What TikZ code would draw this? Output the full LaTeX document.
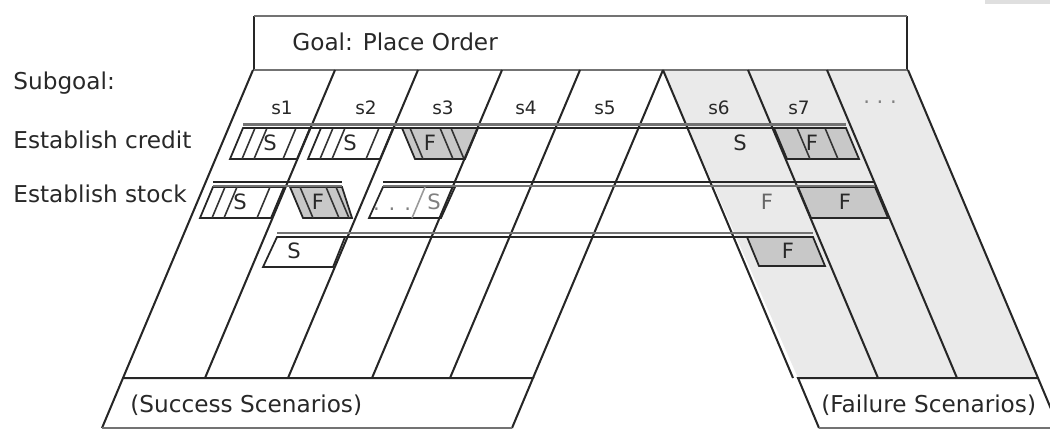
\documentclass[tikz,border=0pt]{standalone}
\usepackage{fontspec}
\setmainfont{DejaVu Sans}
\definecolor{FailGray}{RGB}{234,234,234}
\definecolor{BoxGray}{RGB}{200,200,200}
\definecolor{RuleGray}{RGB}{115,115,115}
\definecolor{InkGray}{RGB}{40,40,40}
\usetikzlibrary{positioning}
\tikzset{
  txt/.style={inner sep=0pt, text=InkGray, font=\fontsize{13.2}{15}\selectfont},
  coltxt/.style={inner sep=0pt, text=InkGray, font=\fontsize{10.5}{12}\selectfont},
  boxtxt/.style={inner sep=0pt, text=InkGray, font=\fontsize{12}{14}\selectfont},
  edge/.style={line width=1.15pt, draw=black!85},
  rule/.style={line width=1.6pt, draw=RuleGray},
  sbox/.style={line width=1pt, draw=black!85},
  fbox/.style={line width=1pt, draw=black!85, fill=BoxGray},
  hatch/.style={line width=0.9pt, draw=black!80}
}

\begin{document}
\begin{tikzpicture}[x=0.02cm, y=-0.02cm]
  \useasboundingbox (0,0) rectangle (1050,430);
  \fill[gray!25] (985,0) rectangle (1050,4);

  % failure leg
  \fill[FailGray] (663,70) -- (908,70) -- (1038,378) -- (798,378) -- cycle;

  % goal box
  \draw[edge] (254,16) -- (254,70) (907,16) -- (907,70);
  \draw[rule] (254,16) -- (907,16) (254,70) -- (907,70);
  \node[txt, anchor=base west] (goal) at (292,50) {Goal: Place Order};

  % subgoal boxes
  \draw[sbox] (243,128) -- (310,128) -- (297,159) -- (230,159) -- cycle;
  \draw[sbox] (321,128) -- (393,128) -- (380,159) -- (308,159) -- cycle;
  \draw[fbox] (402,128) -- (478,128) -- (465,159) -- (415,159) -- cycle;
  \draw[fbox] (774,128) -- (846,128) -- (859,159) -- (787,159) -- cycle;
  \draw[sbox] (213,187) -- (284,187) -- (271,218) -- (200,218) -- cycle;
  \draw[fbox] (290,187) -- (342,187) -- (352,218) -- (303,218) -- cycle;
  \draw[sbox] (383,187) -- (455,187) -- (441,218) -- (369,218) -- cycle;
  \draw[fbox] (798,187) -- (875,187) -- (888,218) -- (811,218) -- cycle;
  \draw[sbox] (277,237) -- (345,237) -- (333,267) -- (263,267) -- cycle;
  \draw[fbox] (747,237) -- (813,237) -- (825,266) -- (759,266) -- cycle;

  % hatching
  \foreach \x in {242,254,283,320,332,366}
    \draw[hatch] (\x,159) -- ++(13,-31);
  \foreach \x in {212,224,257}
    \draw[hatch] (\x,218) -- ++(13,-31);
  \draw[hatch, draw=black!40] (412,218) -- ++(13,-31);
  \foreach \x in {410,440,451,797,825}
    \draw[hatch] (\x,128) -- ++(13,31);
  \foreach \x in {300,326,336}
    \draw[hatch] (\x,187) -- ++(13,31);

  % stripes
  \foreach \x in {253,335,418,502,580,663}
    \draw[edge] (\x,70) -- ++(-130,308);
  \foreach \x in {663,748,827,908}
    \draw[edge] (\x,70) -- ++(130,308);

  % rows
  \draw[rule] (243,124.5) -- (846,124.5);
  \draw[edge] (243,128) -- (846,128);
  \draw[edge] (213,182) -- (342,182) (383,182) -- (875,182);
  \draw[rule] (213,186) -- (342,186) (383,186) -- (875,186);
  \draw[rule] (277,233) -- (813,233);
  \draw[edge] (277,237) -- (813,237);

  % legs
  \draw[edge] (102,428) -- (123,378) -- (533,378) -- (512,428);
  \draw[rule] (102,428) -- (512,428);
  \draw[edge] (819,428) -- (798,378) -- (1038,378) -- (1059,428);
  \draw[rule] (819,428) -- (1050,428);

  % labels
  \node[txt, anchor=base west] (subgoal) at (13,89) {Subgoal:};
  \node[txt, anchor=base west] (credit) at (13,148) {Establish credit};
  \node[txt, anchor=base west] (stock) at (13,202) {Establish stock};
  \foreach \n/\x in {1/282,2/366,3/443,4/526,5/605,6/719,7/799}
    \node[coltxt] (s\n) at (\x,108) {s\n};
  \node[coltxt, anchor=base, text=black!50, font=\fontsize{12}{14}\selectfont] (more) at (880,109) {· · ·};

  \node[boxtxt] (cs1) at (270,143) {S};
  \node[boxtxt] (cs2) at (350,143) {S};
  \node[boxtxt] (cf3) at (430,143) {F};
  \node[boxtxt] (cs6) at (740,143) {S};
  \node[boxtxt] (cf7) at (812,143) {F};
  \node[boxtxt] (ss1) at (240,202) {S};
  \node[boxtxt] (sf2) at (318,202) {F};
  \node[boxtxt, text=black!50, anchor=base] (sdots) at (392,210) {. . .};
  \node[boxtxt, text=black!50] (ss3) at (434,202) {S};
  \node[boxtxt, text=black!60] (sf6) at (767,202) {F};
  \node[boxtxt] (sf7) at (845,202) {F};
  \node[boxtxt] (ts2) at (294,251) {S};
  \node[boxtxt] (tf6) at (788,251) {F};

  \node[txt, anchor=base west] (success) at (130,412) {(Success Scenarios)};
  \node[txt, anchor=base west] (failure) at (821,412) {(Failure Scenarios)};
\end{tikzpicture}
\end{document}
